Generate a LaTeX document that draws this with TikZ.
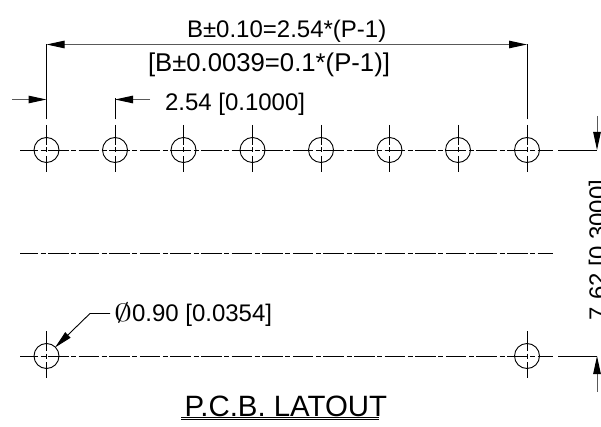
\documentclass[tikz,border=0pt]{standalone}
\usepackage{fontspec}
\setmainfont{Liberation Sans}
\usetikzlibrary{arrows.meta}
\tikzset{
  x=1pt,y=-1pt,
  lbl/.style={inner sep=0,outer sep=0,anchor=base west,font=\fontsize{24}{24}\selectfont},
  lblbig/.style={lbl,font=\fontsize{25.7}{26}\selectfont},
  ttl/.style={inner sep=0,outer sep=0,anchor=base west,font=\fontsize{29.4}{30}\selectfont},
  hole/.style={circle,draw,line width=.9pt,minimum size=25pt,inner sep=0,outer sep=0},
  thin line/.style={line width=.9pt,black},
  dim line/.style={line width=1pt,black!65},
  tip/.style={-{Triangle[length=18pt,width=7.5pt,black]}},
  bothtips/.style={{Triangle[length=18pt,width=7.5pt,black]}-{Triangle[length=18pt,width=7.5pt,black]}},
  centre line/.style={line width=.9pt,dash pattern=on 20.6pt off 2.5pt on 5pt off 2.5pt,dash phase=2.6pt},
}
\begin{document}
\begin{tikzpicture}
\useasboundingbox (0,0) rectangle (601,427);
\clip (0,0) rectangle (601,427);
% centre lines
\foreach \n/\y in {t/150,m/253,b/356}{
  \coordinate (\n L) at (20,\y);
  \coordinate (\n R) at (553,\y);
  \draw[centre line] (\n L) -- (\n R);
}
% holes
\foreach \n/\x/\y in {t1/46.5/150,t2/115/150,t3/183.5/150,t4/252.5/150,t5/321/150,t6/389.5/150,t7/458/150,t8/527/150,b1/46.5/356,b8/527/356}{
  \node[hole] (\n) at (\x,\y) {};
  \draw[thin line] ([yshift=25pt]\n.center) -- ([yshift=5pt]\n.center);
  \draw[thin line] ([yshift=2.5pt]\n.center) -- ([yshift=-2.5pt]\n.center);
  \draw[thin line] ([yshift=-6pt]\n.center) -- ([yshift=-22pt]\n.center);
}
% overall dimension
\coordinate (extL) at (46.5,119.5);
\coordinate (extR) at (527,119.5);
\coordinate (dimL) at (46.5,44.5);
\coordinate (dimR) at (527,44.5);
\draw[thin line] (extL) -- (dimL);
\draw[thin line] (extR) -- (dimR);
\draw[dim line,bothtips] (dimL) -- (dimR);
% pitch dimension
\coordinate (pA0) at (12,99.5);
\coordinate (pA1) at (46.5,99.5);
\coordinate (pB0) at (150,99.5);
\coordinate (pB1) at (115,99.5);
\coordinate (extP) at (115,119.5);
\draw[thin line] (extP) -- (115,98);
\draw[dim line,tip] (pA0) -- (pA1);
\draw[dim line,tip] (pB0) -- (pB1);
% vertical dimension
\coordinate (vT0) at (597,116);
\coordinate (vT1) at (597,150);
\coordinate (vB0) at (597,391.5);
\coordinate (vB1) at (597,356);
\coordinate (tE) at (558,150);
\coordinate (bE) at (558,356);
\draw[thin line] (tE) -- (vT1);
\draw[thin line] (bE) -- (vB1);
\draw[dim line,tip] (vT0) -- (vT1);
\draw[dim line,tip] (vB0) -- (vB1);
% leader
\coordinate (ldA) at (110,313.5);
\coordinate (ldB) at (90,313.5);
\coordinate (ldC) at (55,347.5);
\draw[thin line,tip] (ldA) -- (ldB) -- (ldC);
% texts
\node[lbl] (tB) at (187,38) {B±0.10=2.54*(P-1)};
\node[lblbig] (tBi) at (148,72) {[B±0.0039=0.1*(P-1)]};
\node[lbl] (tP) at (165,111) {2.54 [0.1000]};
\node[lbl] (tD) at (114,321) {\makebox[18pt][l]{\fontsize{27}{27}\selectfont\scalebox{1.45}[1]{$\emptyset$}}0.90 [0.0354]};
\node[lbl,rotate=90] (tV) at (606,320) {7.62 [0.3000]};
\node[ttl] (tT) at (184.5,416) {P.C.B. LATOUT};
\coordinate (u1) at (181,417.5);
\coordinate (u2) at (379,417.5);
\coordinate (u3) at (181,419.8);
\coordinate (u4) at (379,419.8);
\draw[thin line] (u1) -- (u2);
\draw[thin line] (u3) -- (u4);
\end{tikzpicture}
\end{document}
